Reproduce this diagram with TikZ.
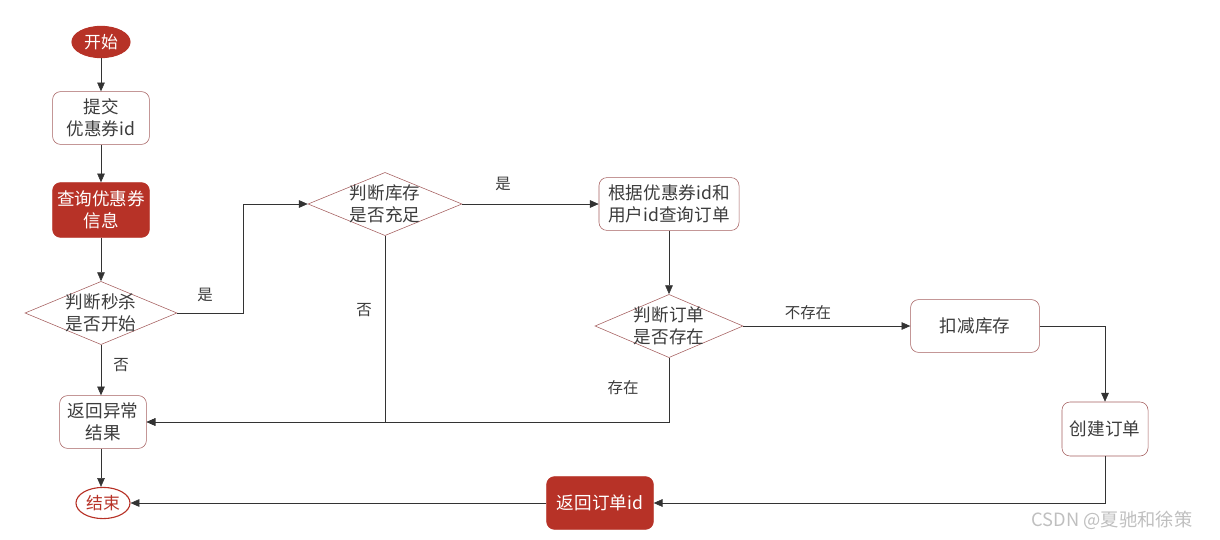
\documentclass[tikz,border=0pt]{standalone}
\usepackage{fontspec}
\setmainfont{Noto Sans CJK SC}
\usetikzlibrary{shapes.geometric,arrows.meta}
\definecolor{flowred}{RGB}{183,50,39}
\definecolor{boxline}{RGB}{165,95,95}
\definecolor{txtgray}{RGB}{60,60,60}
\tikzset{
  terminal/.style={ellipse, draw=flowred, thick, minimum width=1.45cm, minimum height=0.78cm, inner sep=0pt, font=\fontsize{12}{15}\selectfont},
  procbox/.style={rectangle, rounded corners=2mm, draw=boxline, fill=white, text=txtgray, align=center, inner sep=1pt, font=\fontsize{12.5}{15.5}\selectfont},
  redbox/.style={rectangle, rounded corners=2mm, draw=flowred, fill=flowred, text=white, align=center, inner sep=1pt, font=\fontsize{12.5}{15.5}\selectfont},
  decision/.style={diamond, draw=boxline, fill=white, inner sep=0pt, minimum width=3.8cm, minimum height=1.58cm},
  dtext/.style={text=txtgray, align=center, font=\fontsize{12.5}{15.5}\selectfont},
  flow/.style={draw=black!80, -{Triangle[length=2.2mm,width=1.9mm]}},
  answer/.style={text=txtgray, font=\fontsize{11}{13}\selectfont}
}
\begin{document}
\begin{tikzpicture}[x=0.025cm,y=-0.025cm]
  \useasboundingbox (0,0) rectangle (1220,539);

  % Left column
  \node[terminal, fill=flowred, text=white] (start) at (101,42) {开始};
  \node[procbox, minimum width=2.42cm, minimum height=1.32cm] (submit) at (101,118) {提交\\优惠券id};
  \node[redbox, minimum width=2.42cm, minimum height=1.37cm] (query) at (101,210) {查询优惠券\\信息};
  \node[decision] (seckill) at (101,313) {};
  \node[dtext] at (seckill.center) {判断秒杀\\是否开始};
  \node[procbox, minimum width=2.17cm, minimum height=1.32cm] (reterr) at (103,422) {返回异常\\结果};
  \node[terminal, fill=white, text=flowred, minimum width=1.35cm] (stop) at (103,503) {结束};

  % Stock and order checks
  \node[decision, minimum width=3.85cm] (stock) at (385,204) {};
  \node[dtext] at (stock.center) {判断库存\\是否充足};
  \node[procbox, minimum width=3.5cm, minimum height=1.32cm] (findorder) at (669,204) {根据优惠券id和\\用户id查询订单};
  \node[decision, minimum width=3.7cm] (exists) at (669,326) {};
  \node[dtext] at (exists.center) {判断订单\\是否存在};

  % Right part
  \node[procbox, minimum width=3.22cm, minimum height=1.32cm] (deduct) at (975,326) {扣减库存};
  \node[procbox, minimum width=2.15cm, minimum height=1.35cm] (create) at (1105,429) {创建订单};
  \node[redbox, minimum width=2.67cm, minimum height=1.32cm] (retid) at (600,503) {返回订单id};

  % Straight connectors
  \foreach \a/\b in {start/submit, submit/query, query/seckill, stock/findorder,
                     findorder/exists, exists/deduct, retid/stop}{
    \draw[flow] (\a) -- (\b);
  }
  \draw[flow] (seckill.south) -- (seckill.south |- reterr.north);
  \draw[flow] (reterr.south -| seckill.south) -- (seckill.south |- stop.north);

  % Elbow connectors
  \draw[flow] (seckill.east) -- ++(66,0) |- (stock.west);
  \draw[flow] (stock.south) |- (reterr.east);
  \draw[flow] (exists.south) |- (reterr.east);
  \draw[flow] (deduct.east) -| (create.north);
  \draw[flow] (create.south) |- (retid.east);

  % Branch labels
  \node[answer] (yes1) at (205,295) {是};
  \node[answer] (no1) at (121,365) {否};
  \node[answer] (yes2) at (503,184) {是};
  \node[answer] (no2) at (364,310) {否};
  \node[answer] (absent) at (808,313) {不存在};
  \node[answer] (present) at (623,388) {存在};

  % Watermark
  \node[text=black!25, font=\fontsize{13}{15}\selectfont] (mark) at (1112,520) {CSDN @夏驰和徐策};
\end{tikzpicture}
\end{document}
